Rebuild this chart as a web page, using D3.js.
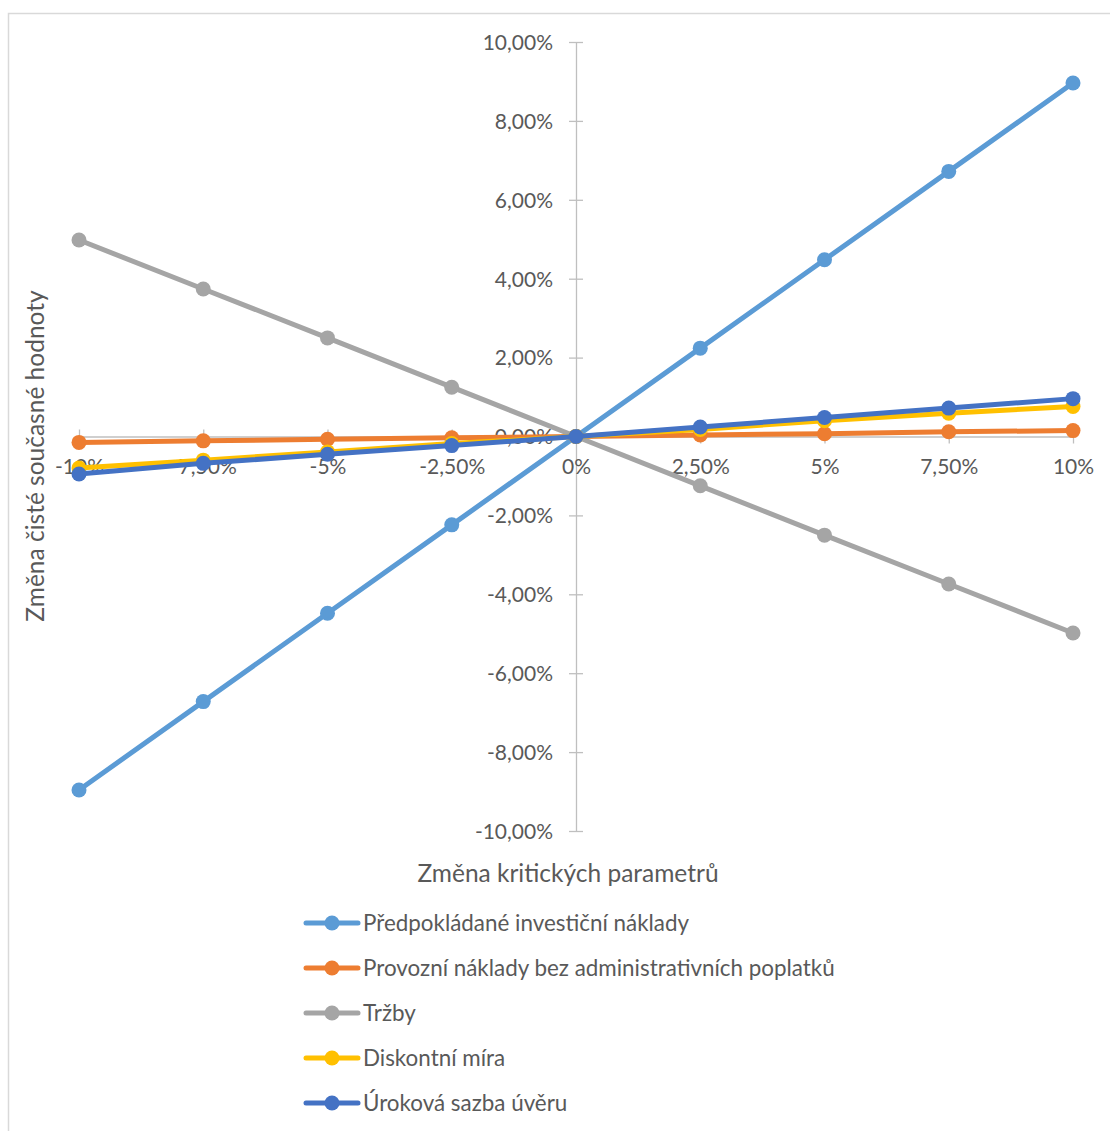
<!DOCTYPE html>
<html>
<head>
<meta charset="utf-8">
<script src="https://cdn.jsdelivr.net/npm/d3@7"></script>
<style>
  html, body { margin: 0; padding: 0; background: #fff; }
  svg { display: block; }
  text { font-family: Lato, "Open Sans", "DejaVu Sans", sans-serif; fill: #595959; }
</style>
</head>
<body>
<svg id="chart" width="1110" height="1131"></svg>
<script>
// Sensitivity analysis: change of NPV vs. change of critical parameters
const categories = ["-10%", "-7,50%", "-5%", "-2,50%", "0%", "2,50%", "5%", "7,50%", "10%"];
const yTicks = [-10, -8, -6, -4, -2, 0, 2, 4, 6, 8, 10];

const seriesNames = [
  "Předpokládané investiční náklady",
  "Provozní náklady bez administrativních poplatků",
  "Tržby",
  "Diskontní míra",
  "Úroková sazba úvěru"
];
const seriesColors = ["#5B9BD5", "#ED7D31", "#A5A5A5", "#FFC000", "#4472C4"];

const investicniNaklady = [-8.96, -6.72, -4.48, -2.24, 0, 2.24, 4.48, 6.72, 8.96];
const provozniNaklady   = [-0.15, -0.11, -0.07, -0.03, 0, 0.04, 0.07, 0.12, 0.15];
const trzby             = [4.98, 3.74, 2.50, 1.25, 0, -1.25, -2.50, -3.74, -4.98];
const diskontniMira     = [-0.80, -0.60, -0.39, -0.18, 0, 0.18, 0.40, 0.59, 0.76];
const urokovaSazba      = [-0.95, -0.68, -0.45, -0.23, 0, 0.24, 0.48, 0.72, 0.96];

const seriesValues = [investicniNaklady, provozniNaklady, trzby, diskontniMira, urokovaSazba];

const svg = d3.select("#chart");

// outer chart frame
svg.append("rect")
  .attr("x", 8.5).attr("y", 13.5)
  .attr("width", 1200).attr("height", 1200)
  .attr("fill", "none").attr("stroke", "#D9D9D9").attr("stroke-width", 1.5);

const x = d3.scalePoint().domain(categories).range([79, 1073]);
const y = d3.scaleLinear().domain([-10, 10]).range([831, 42]);

// Czech number style: decimal comma, plain hyphen for negatives
const locale = d3.formatLocale({ decimal: ",", thousands: " ", grouping: [3], currency: ["", " Kč"], minus: "-" });
const fmtY = v => locale.format(".2f")(v) + "%";

const axisColor = "#BFBFBF";
const tickFont = "21px";

// vertical value axis at 0 on the category axis
const yAxisG = svg.append("g").attr("transform", `translate(${x("0%")},0)`)
  .call(d3.axisLeft(y).tickValues(yTicks).tickFormat(fmtY).tickSize(0).tickPadding(23));
yAxisG.select(".domain").attr("stroke", axisColor).attr("stroke-width", 1.3);
yAxisG.selectAll(".tick").append("line")
  .attr("x1", -7).attr("x2", 7).attr("stroke", axisColor).attr("stroke-width", 1.3);
yAxisG.selectAll(".tick text")
  .style("font-size", tickFont).attr("dy", "0.35em")
  .style("font-family", 'Lato, "Open Sans", sans-serif').attr("fill", "#595959");

// horizontal category axis at 0 on the value axis
const xAxisG = svg.append("g").attr("transform", `translate(0,${y(0)})`)
  .call(d3.axisBottom(x).tickSize(0).tickPadding(36));
xAxisG.select(".domain").attr("stroke", axisColor).attr("stroke-width", 1.3);
xAxisG.selectAll(".tick").append("line")
  .attr("y1", -7).attr("y2", 7).attr("stroke", axisColor).attr("stroke-width", 1.3);
xAxisG.selectAll(".tick text")
  .style("font-size", tickFont).attr("dy", "0.05em")
  .style("font-family", 'Lato, "Open Sans", sans-serif').attr("fill", "#595959");

// axis titles
svg.append("text")
  .attr("x", 568).attr("y", 882)
  .attr("text-anchor", "middle")
  .style("font-size", "24.5px")
  .text("Změna kritických parametrů");

svg.append("text")
  .attr("transform", `translate(44,456) rotate(-90)`)
  .attr("text-anchor", "middle")
  .style("font-size", "24.5px")
  .text("Změna čisté současné hodnoty");

// series lines and markers
const line = d3.line().x((d, i) => x(categories[i])).y(d => y(d));

seriesValues.forEach((vals, s) => {
  const g = svg.append("g");
  g.append("path")
    .datum(vals)
    .attr("d", line)
    .attr("fill", "none")
    .attr("stroke", seriesColors[s])
    .attr("stroke-width", 5)
    .attr("stroke-linejoin", "round")
    .attr("stroke-linecap", "round");
  g.selectAll("circle").data(vals).join("circle")
    .attr("cx", (d, i) => x(categories[i]))
    .attr("cy", d => y(d))
    .attr("r", 7.5)
    .attr("fill", seriesColors[s]);
});

// legend
const legend = svg.append("g");
seriesNames.forEach((name, i) => {
  const ly = 923 + i * 45;
  legend.append("line")
    .attr("x1", 306).attr("x2", 358).attr("y1", ly).attr("y2", ly)
    .attr("stroke", seriesColors[i]).attr("stroke-width", 5).attr("stroke-linecap", "round");
  legend.append("circle")
    .attr("cx", 332).attr("cy", ly).attr("r", 7.5).attr("fill", seriesColors[i]);
  legend.append("text")
    .attr("x", 363).attr("y", ly).attr("dy", "0.35em")
    .style("font-size", "22.4px")
    .text(name);
});
</script>
</body>
</html>
